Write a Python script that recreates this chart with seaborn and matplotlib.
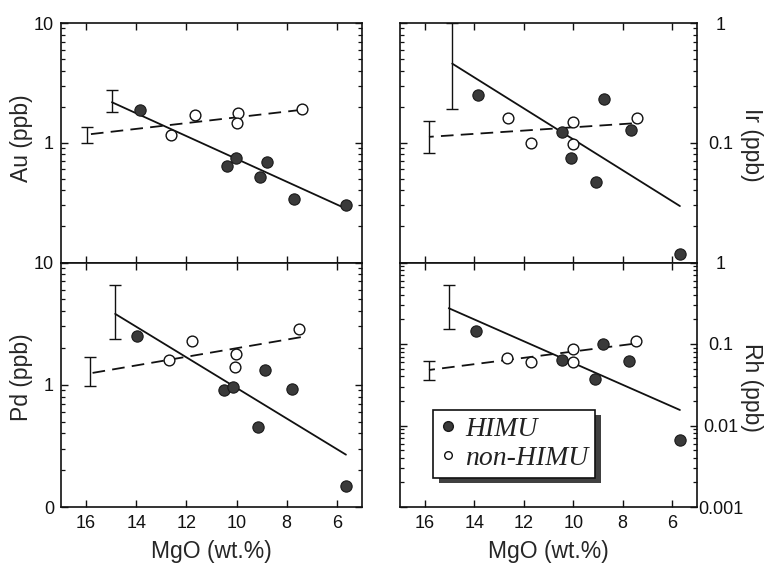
import matplotlib
matplotlib.use("Agg")
import matplotlib.pyplot as plt
import matplotlib.patheffects as pe
from matplotlib.font_manager import FontProperties
from matplotlib.lines import Line2D
from matplotlib.ticker import FixedLocator, FixedFormatter, LogLocator, NullFormatter
import seaborn as sns

# ---- Au (ppb) ----
himu_mgo_au = [13.84, 10.37, 10.03, 8.80, 9.07, 7.71, 5.64]
himu_au = [1.88, 0.635, 0.75, 0.69, 0.52, 0.34, 0.304]
non_mgo_au = [12.61, 11.64, 9.95, 9.97, 7.41]
non_au = [1.15, 1.71, 1.77, 1.46, 1.91]
fit_himu_mgo_au, fit_himu_au = [14.97, 5.71], [2.18, 0.286]
fit_non_mgo_au, fit_non_au = [15.97, 7.44], [1.17, 1.88]
err_himu_au = (14.97, 1.82, 2.76)
err_non_au = (15.97, 1.00, 1.35)

# ---- Ir (ppb) ----
himu_mgo_ir = [13.85, 10.45, 10.09, 8.76, 9.07, 7.67, 5.69]
himu_ir = [0.252, 0.124, 0.0744, 0.233, 0.047, 0.129, 0.0118]
non_mgo_ir = [12.63, 11.69, 9.99, 9.99, 7.43]
non_ir = [0.16, 0.0987, 0.148, 0.0975, 0.16]
fit_himu_mgo_ir, fit_himu_ir = [14.89, 5.69], [0.458, 0.0296]
fit_non_mgo_ir, fit_non_ir = [15.83, 7.63], [0.112, 0.145]
err_himu_ir = (14.89, 0.192, 1.0)
err_non_ir = (15.83, 0.082, 0.153)

# ---- Pd (ppb) ----
himu_mgo_pd = [13.97, 10.51, 10.13, 8.88, 9.15, 7.80, 5.64]
himu_pd = [2.49, 0.90, 0.96, 1.32, 0.45, 0.92, 0.149]
non_mgo_pd = [12.71, 11.77, 10.04, 10.08, 7.51]
non_pd = [1.59, 2.29, 1.78, 1.40, 2.87]
fit_himu_mgo_pd, fit_himu_pd = [14.84, 5.64], [3.8, 0.268]
fit_non_mgo_pd, fit_non_pd = [15.84, 7.44], [1.24, 2.45]
err_himu_pd = (14.84, 2.37, 6.5)
err_non_pd = (15.84, 0.97, 1.69)

# ---- Rh (ppb) ----
himu_mgo_rh = [13.92, 10.47, 9.12, 8.80, 7.76, 5.69]
himu_rh = [0.146, 0.0634, 0.0377, 0.1, 0.0622, 0.0067]
non_mgo_rh = [12.69, 11.69, 10.03, 10.00, 7.45]
non_rh = [0.0666, 0.0594, 0.0868, 0.0605, 0.108]
fit_himu_mgo_rh, fit_himu_rh = [15.03, 5.69], [0.275, 0.0155]
fit_non_mgo_rh, fit_non_rh = [15.83, 7.63], [0.048, 0.1]
err_himu_rh = (15.03, 0.153, 0.525)
err_non_rh = (15.83, 0.036, 0.061)

mgo_ticks = [16, 14, 12, 10, 8, 6]

sns.set_style("ticks")
plt.rcParams["font.family"] = ["Liberation Sans", "DejaVu Sans"]
plt.rcParams["axes.linewidth"] = 1.2
plt.rcParams["axes.edgecolor"] = "#111111"

FILL = "#3a3a3a"


def draw_panel(ax, hx, hy, nx, ny, fit_h, fit_n, err_h, err_n, ylim, yticks, ylabels):
    # regression lines
    sns.lineplot(x=fit_h[0], y=fit_h[1], ax=ax, color="#111111", linewidth=1.3)
    sns.lineplot(x=fit_n[0], y=fit_n[1], ax=ax, color="#111111", linewidth=1.3,
                 linestyle=(0, (7, 4)))
    # typical error bars
    for x, lo, hi in (err_h, err_n):
        mid = (lo + hi) / 2
        ax.errorbar([x], [mid], yerr=[[mid - lo], [hi - mid]], fmt="none",
                    ecolor="#111111", elinewidth=1.0, capsize=4, capthick=1.0)
    # samples
    sns.scatterplot(x=hx, y=hy, ax=ax, color=FILL, edgecolor="#1a1a1a",
                    s=66, linewidth=0.8, zorder=3)
    sns.scatterplot(x=nx, y=ny, ax=ax, color="white", edgecolor="#111111",
                    s=60, linewidth=1.0, zorder=3)

    ax.set_yscale("log")
    ax.set_ylim(*ylim)
    ax.set_xlim(17, 5)
    ax.xaxis.set_major_locator(FixedLocator(mgo_ticks))
    ax.yaxis.set_major_locator(FixedLocator(yticks))
    ax.yaxis.set_major_formatter(FixedFormatter(ylabels))
    ax.yaxis.set_minor_locator(LogLocator(base=10, subs=range(2, 10), numticks=20))
    ax.yaxis.set_minor_formatter(NullFormatter())
    ax.tick_params(which="both", direction="in", top=True, bottom=True,
                   left=True, right=True, colors="#111111", labelsize=13)
    ax.tick_params(which="major", length=5, width=1.0)
    ax.tick_params(which="minor", length=3, width=0.9)
    ax.set_xlabel("")
    ax.set_ylabel("")


fig = plt.figure(figsize=(7.73, 5.67), dpi=100)
ax_au = fig.add_axes([61 / 773, 1 - 262.5 / 567, 301 / 773, 239.5 / 567])
ax_pd = fig.add_axes([61 / 773, 1 - 507 / 567, 301 / 773, 244.5 / 567])
ax_ir = fig.add_axes([400 / 773, 1 - 262.5 / 567, 297 / 773, 239.5 / 567])
ax_rh = fig.add_axes([400 / 773, 1 - 507 / 567, 297 / 773, 244.5 / 567])

draw_panel(ax_au, himu_mgo_au, himu_au, non_mgo_au, non_au,
           (fit_himu_mgo_au, fit_himu_au), (fit_non_mgo_au, fit_non_au),
           err_himu_au, err_non_au, (0.1, 10), [0.1, 1, 10], ["", "1", "10"])
draw_panel(ax_pd, himu_mgo_pd, himu_pd, non_mgo_pd, non_pd,
           (fit_himu_mgo_pd, fit_himu_pd), (fit_non_mgo_pd, fit_non_pd),
           err_himu_pd, err_non_pd, (0.1, 10), [0.1, 1, 10], ["0", "1", "10"])
draw_panel(ax_ir, himu_mgo_ir, himu_ir, non_mgo_ir, non_ir,
           (fit_himu_mgo_ir, fit_himu_ir), (fit_non_mgo_ir, fit_non_ir),
           err_himu_ir, err_non_ir, (0.01, 1), [0.01, 0.1, 1], ["", "0.1", "1"])
draw_panel(ax_rh, himu_mgo_rh, himu_rh, non_mgo_rh, non_rh,
           (fit_himu_mgo_rh, fit_himu_rh), (fit_non_mgo_rh, fit_non_rh),
           err_himu_rh, err_non_rh, (0.001, 1), [0.001, 0.01, 0.1, 1],
           ["0.001", "0.01", "0.1", "1"])

for ax in (ax_au, ax_ir):
    ax.tick_params(labelbottom=False)
for ax in (ax_pd, ax_rh):
    ax.tick_params(axis="x", pad=6)
    ax.set_xlabel("MgO (wt.%)", fontsize=16.5)
    ax.xaxis.set_label_coords(0.5, -0.184)
    ax.xaxis.label.set_verticalalignment("center")

for ax, label, ypos in ((ax_au, "Au (ppb)", 0.52), (ax_pd, "Pd (ppb)", 0.53)):
    ax.tick_params(axis="y", pad=5)
    ax.set_ylabel(label, fontsize=16.5)
    ax.yaxis.set_label_coords(-0.13, ypos)
    ax.yaxis.label.set_verticalalignment("center")

for ax, label in ((ax_ir, "Ir (ppb)"), (ax_rh, "Rh (ppb)")):
    ax.tick_params(axis="y", labelleft=False, labelright=True, pad=17)
    for tick in ax.yaxis.get_major_ticks():
        tick.label2.set_horizontalalignment("center")
    ax.yaxis.set_label_position("right")
    ax.set_ylabel(label, fontsize=16.5, rotation=270)
    ax.yaxis.set_label_coords(1.185, 0.49)
    ax.yaxis.label.set_verticalalignment("center")

handles = [
    Line2D([], [], linestyle="none", marker="o", markersize=7,
           markerfacecolor=FILL, markeredgecolor="#1a1a1a"),
    Line2D([], [], linestyle="none", marker="o", markersize=5.5,
           markerfacecolor="white", markeredgecolor="#111111", markeredgewidth=1.0),
]
leg = ax_rh.legend(handles, ["HIMU", "non-HIMU"], loc="lower left",
                   bbox_to_anchor=(0.111, 0.119), borderaxespad=0,
                   fancybox=False, framealpha=1, edgecolor="#111111",
                   prop=FontProperties(family="Liberation Serif", style="italic", size=20),
                   handlelength=0.6, handletextpad=0.3, borderpad=0.25,
                   labelspacing=0.12)
frame = leg.get_frame()
frame.set_linewidth(1.2)
frame.set_path_effects([pe.SimplePatchShadow(offset=(4, -4), shadow_rgbFace="0.25", alpha=1.0),
                        pe.Normal()])
for t in leg.get_texts():
    t.set_color("#222222")

fig.savefig("out.png", dpi=100, facecolor="white")
